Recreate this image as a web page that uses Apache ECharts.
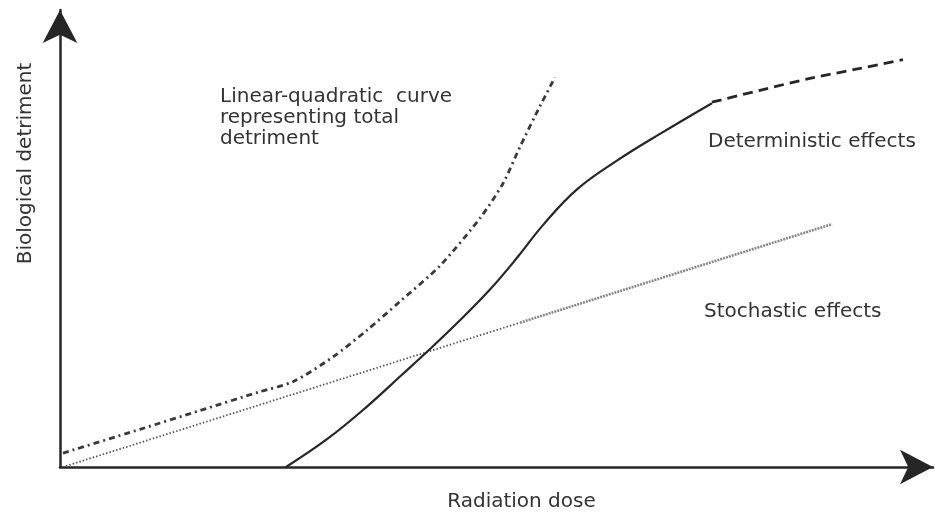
<!DOCTYPE html>
<html>
<head>
<meta charset="utf-8">
<script src="https://cdn.jsdelivr.net/npm/echarts@6/dist/echarts.min.js"></script>
<style>
html,body{margin:0;padding:0;background:#fff;}
#chart{width:935px;height:517px;}
</style>
</head>
<body>
<div id="chart"></div>
<script>
// Axis titles
const xAxisTitle = 'Radiation dose';
const yAxisTitle = 'Biological detriment';

// Annotation texts
const lqLabel = 'Linear-quadratic  curve\nrepresenting total\ndetriment';
const detLabel = 'Deterministic effects';
const stoLabel = 'Stochastic effects';

// Linear-quadratic curve (total detriment), [dose, detriment]
const linearQuadratic = [
  [0.35, 3.15], [9.34, 8.55], [16.35, 12.82], [23.35, 17.10], [27.20, 19.35],
  [31.87, 24.97], [35.84, 31.05], [39.70, 37.57], [44.37, 45.67], [49.04, 56.47],
  [51.72, 64.34], [53.71, 72.67], [56.04, 81.89], [57.79, 88.41]
];

// Stochastic effects (straight line): sparse-dotted part, then dense part
const stochasticA = [[0.70, 0.22], [53.71, 32.76]];
const stochasticB = [[53.71, 32.76], [90.13, 55.12]];

// Deterministic effects: solid part then dashed extrapolation
const deterministicSolid = [
  [26.39, 0], [31.17, 6.30], [35.84, 13.72], [40.05, 21.15], [43.20, 26.77],
  [46.70, 33.30], [50.20, 40.27], [53.36, 47.47], [56.39, 54.89], [60.36, 62.99],
  [65.03, 69.52], [70.05, 75.59], [76.12, 82.56]
];
const deterministicDashed = [
  [76.12, 82.79], [81.73, 85.49], [87.57, 88.19], [93.40, 90.44], [98.42, 92.46]
];

const FONT = 'DejaVu Sans';
const TXT = '#333';
const INK = '#262626';

const chart = echarts.init(document.getElementById('chart'), null, {renderer: 'canvas'});

const axisCommon = {
  type: 'value', min: 0,
  axisTick: {show: false}, axisLabel: {show: false}, splitLine: {show: false},
  axisLine: {show: true, symbol: ['none', 'arrow'], symbolSize: [26, 33],
             lineStyle: {color: INK, width: 2.5}}
};

chart.setOption({
  animation: false,
  backgroundColor: '#fff',
  grid: {left: 60, right: 2, top: 10, bottom: 46, containLabel: false},
  xAxis: Object.assign({}, axisCommon, {
    max: 101.93,
    name: xAxisTitle, nameLocation: 'middle', nameGap: 25,
    nameTextStyle: {fontFamily: FONT, fontSize: 20, color: TXT, padding: [0, 0, 0, 50]}
  }),
  yAxis: Object.assign({}, axisCommon, {
    max: 103.71,
    name: yAxisTitle, nameLocation: 'middle', nameGap: 24,
    nameTextStyle: {fontFamily: FONT, fontSize: 20, color: TXT, padding: [0, 0, 0, 150]}
  }),
  series: [
    {type: 'line', data: linearQuadratic, smooth: 0.25, showSymbol: false, silent: true,
     lineStyle: {color: '#3a3a3a', width: 2.8, type: [6, 4, 2, 4]}},
    {type: 'line', data: stochasticA, showSymbol: false, silent: true,
     lineStyle: {color: '#555', width: 1.8, type: [1.5, 2]}},
    {type: 'line', data: stochasticB, showSymbol: false, silent: true,
     lineStyle: {color: '#888', width: 2.6, type: [2, 1]}},
    {type: 'line', data: deterministicSolid, smooth: 0.4, showSymbol: false, silent: true,
     lineStyle: {color: INK, width: 2.2, type: 'solid'}},
    {type: 'line', data: deterministicDashed, smooth: 0.3, showSymbol: false, silent: true,
     lineStyle: {color: INK, width: 2.8, type: [10, 6]}}
  ],
  graphic: [
    {type: 'text', left: 220, top: 86, silent: true,
     style: {text: lqLabel, font: '20px "DejaVu Sans"', fill: TXT, lineHeight: 21}},
    {type: 'text', left: 708, top: 131, silent: true,
     style: {text: detLabel, font: '20px "DejaVu Sans"', fill: TXT, lineHeight: 21}},
    {type: 'text', left: 704, top: 301, silent: true,
     style: {text: stoLabel, font: '20px "DejaVu Sans"', fill: TXT, lineHeight: 21}}
  ]
});
</script>
</body>
</html>
